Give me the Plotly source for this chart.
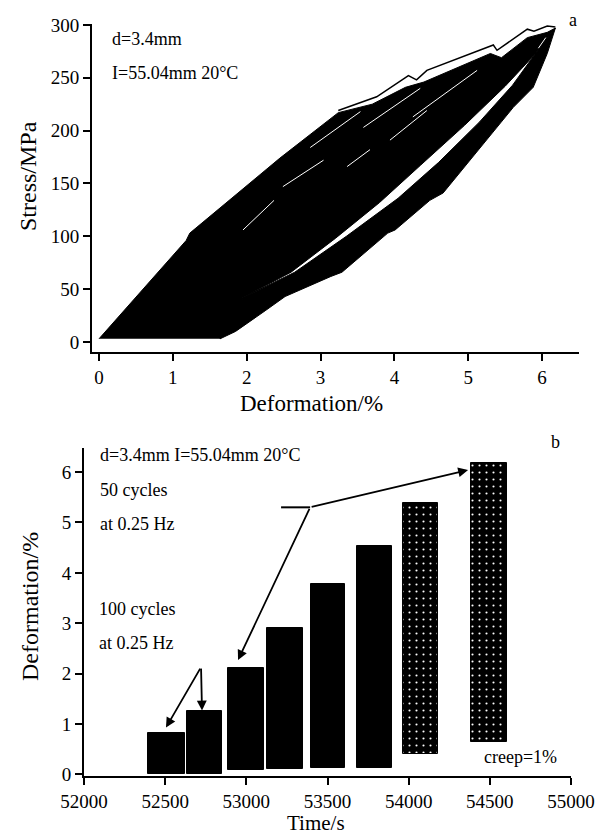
import plotly.graph_objects as go

W, H = 596, 834
FONT = "Liberation Serif"

# ---------------- Panel a: stress vs deformation (envelopes of overlapped loops) ----------------
# inner (loading + inner unloading) region outline: deformation %, stress MPa
blob_def = [0.00, 1.18, 1.23, 2.45, 3.24, 3.70, 4.15, 4.40, 5.30, 5.45, 5.80, 6.07, 6.18,
            5.90, 5.50, 4.95, 4.35, 3.80, 3.20, 2.60, 1.95, 1.80, 1.64]
blob_str = [3, 96, 103, 174, 217, 225, 241, 246, 273, 269, 288, 293, 297,
            272, 242, 205, 167, 132, 98, 66, 42, 20, 3]
# outer unloading band (largest amplitude cycles)
band_def = [1.64, 1.95, 2.65, 3.35, 4.05, 4.60, 5.15, 5.60, 5.90, 6.18,
            6.07, 5.88, 5.61, 5.16, 4.66, 4.48, 4.01, 3.91, 3.29, 3.14, 2.52, 2.26, 1.85, 1.64]
band_str = [3, 42, 66, 100, 136, 170, 208, 243, 272, 297,
            273, 241, 222, 184, 141, 134, 106, 103, 66, 62, 43, 30, 10, 3]
# first-cycle loading outline above the band
top_def = [3.24, 3.76, 4.19, 4.30, 4.44, 5.34, 5.39, 5.80, 5.89, 6.07, 6.18]
top_str = [219, 232, 252, 248, 257, 281, 276, 296, 294, 299, 298]
# thin gaps between individual loops inside the dense region (None separates segments)
gap_def = [2.86, 3.54, None, 3.58, 4.35, None, 4.25, 5.12, None, 2.49, 3.04, None,
           3.36, 3.67, None, 3.94, 4.44, None, 1.95, 2.37, None, 5.95, 6.05]
gap_str = [184, 218, None, 203, 240, None, 213, 257, None, 147, 172, None,
           166, 182, None, 191, 219, None, 106, 134, None, 278, 288]

# ---------------- Panel b: deformation vs time ----------------
block_start = [52394, 52635, 52887, 53128, 53399, 53682, 53966, 54384]
block_end = [52622, 52850, 53109, 53349, 53608, 53898, 54181, 54606]
block_min = [0.0, 0.0, 0.08, 0.10, 0.13, 0.12, 0.40, 0.65]
block_max = [0.83, 1.25, 2.11, 2.90, 3.77, 4.53, 5.38, 6.18]
block_pattern = ["", "", "", "", "", "", ".", "."]

# arrows: (tail_x, tail_y, head_x, head_y)
arrows = [
    (53393, 5.30, 54366, 6.04),
    (53393, 5.30, 52949, 2.27),
    (52721, 2.13, 52505, 0.93),
    (52721, 2.13, 52727, 1.27),
]
bar_seg_x = [53214, 53393]
bar_seg_y = [5.30, 5.30]


def px(x):
    return x / W


def py(y):
    return 1 - y / H


fig = go.Figure()

fig.add_trace(go.Scatter(x=blob_def, y=blob_str, mode="lines", fill="toself",
                         fillcolor="black", line=dict(color="black", width=1),
                         xaxis="x", yaxis="y", hoverinfo="skip"))
fig.add_trace(go.Scatter(x=band_def, y=band_str, mode="lines", fill="toself",
                         fillcolor="black", line=dict(color="black", width=1),
                         xaxis="x", yaxis="y", hoverinfo="skip"))
fig.add_trace(go.Scatter(x=top_def, y=top_str, mode="lines",
                         line=dict(color="black", width=1.5),
                         xaxis="x", yaxis="y", hoverinfo="skip"))
fig.add_trace(go.Scatter(x=gap_def, y=gap_str, mode="lines", connectgaps=False,
                         line=dict(color="white", width=1),
                         xaxis="x", yaxis="y", hoverinfo="skip"))

centers = [(s + e) / 2 for s, e in zip(block_start, block_end)]
widths = [e - s for s, e in zip(block_start, block_end)]
heights = [mx - mn for mn, mx in zip(block_min, block_max)]
fig.add_trace(go.Bar(x=centers, y=heights, base=block_min, width=widths,
                     marker=dict(color="black", line=dict(color="black", width=1),
                                 pattern=dict(shape=block_pattern, fgcolor="white",
                                              bgcolor="black", size=7, solidity=0.07,
                                              fillmode="replace")),
                     xaxis="x2", yaxis="y2", hoverinfo="skip"))
fig.add_trace(go.Scatter(x=bar_seg_x, y=bar_seg_y, mode="lines",
                         line=dict(color="black", width=2),
                         xaxis="x2", yaxis="y2", hoverinfo="skip"))

axis_common = dict(showline=True, linecolor="black", linewidth=2, ticks="outside",
                   ticklen=7, tickwidth=2, tickcolor="black", showgrid=False,
                   zeroline=False, mirror=False, automargin=False, tickformat="d",
                   tickfont=dict(family=FONT, size=19, color="black"))

fig.update_layout(
    width=W, height=H, margin=dict(l=0, r=0, t=0, b=0, autoexpand=False),
    font=dict(family=FONT, color="black"),
    paper_bgcolor="white", plot_bgcolor="white", showlegend=False,
    bargap=0,
    xaxis=dict(domain=[px(92), px(579)], range=[-0.095, 6.5], tickvals=[0, 1, 2, 3, 4, 5, 6],
               anchor="y", **axis_common),
    yaxis=dict(domain=[py(352), py(24)], range=[-9.5, 300.9],
               tickvals=[0, 50, 100, 150, 200, 250, 300], anchor="x", **axis_common),
    xaxis2=dict(domain=[px(84), px(571)], range=[52000, 55000],
                tickvals=[52000, 52500, 53000, 53500, 54000, 54500, 55000],
                anchor="y2", **axis_common),
    yaxis2=dict(domain=[py(776), py(448)], range=[-0.03, 6.477],
                tickvals=[0, 1, 2, 3, 4, 5, 6], anchor="x2", **axis_common),
)

ann = []


def text(x, y, s, size=18, xanchor="left", angle=0):
    ann.append(dict(x=px(x), y=py(y), xref="paper", yref="paper", text=s,
                    showarrow=False, xanchor=xanchor, yanchor="middle", textangle=angle,
                    font=dict(family=FONT, size=size, color="black")))


text(110, 39, "d=3.4mm")
text(110, 73, "I=55.04mm 20°C")
text(573, 20, "a", xanchor="center")
text(28, 176, "Stress/MPa", size=24, xanchor="center", angle=-90)
text(311, 403, "Deformation/%", size=23, xanchor="center")

text(98, 455, "d=3.4mm I=55.04mm 20°C")
text(98, 490, "50 cycles")
text(98, 524, "at 0.25 Hz")
text(97, 609, "100 cycles")
text(97, 643, "at 0.25 Hz")
text(482, 757, "creep=1%")
text(555, 442, "b", xanchor="center")
text(30, 607, "Deformation/%", size=24, xanchor="center", angle=-90)
text(316, 823, "Time/s", size=21, xanchor="center")

for tx, ty, hx, hy in arrows:
    ann.append(dict(x=hx, y=hy, ax=tx, ay=ty, xref="x2", yref="y2", axref="x2", ayref="y2",
                    text="", showarrow=True, arrowhead=2, arrowsize=1.1, arrowwidth=1.8,
                    arrowcolor="black", standoff=0, startstandoff=0))

fig.update_layout(annotations=ann)
fig.write_html("out.html")
